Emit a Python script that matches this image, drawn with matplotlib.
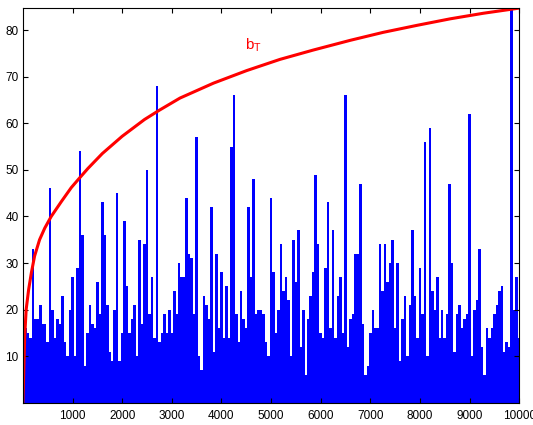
import numpy as np
import matplotlib
matplotlib.use('Agg')
import matplotlib.pyplot as plt

plt.rcParams['font.family'] = ['Liberation Sans', 'DejaVu Sans']
plt.rcParams['mathtext.default'] = 'regular'

# blue series: local max read every 50 iterations (0..10000)
noise = [14, 16, 15, 14, 33, 18, 18, 21, 17, 17,
         13, 46, 20, 14, 18, 17, 23, 13, 10, 20,
         27, 10, 29, 54, 36, 8, 15, 21, 17, 16,
         26, 19, 43, 36, 21, 11, 9, 20, 45, 9,
         15, 39, 25, 15, 18, 21, 10, 35, 17, 34,
         50, 19, 27, 14, 68, 13, 15, 19, 15, 20,
         15, 24, 19, 30, 27, 27, 44, 32, 31, 19,
         57, 10, 7, 23, 21, 18, 42, 11, 32, 16,
         28, 14, 25, 14, 55, 66, 19, 13, 24, 18,
         16, 42, 27, 48, 19, 20, 20, 19, 13, 10,
         44, 28, 15, 20, 34, 24, 27, 22, 10, 35,
         26, 37, 12, 20, 6, 18, 23, 28, 49, 34,
         15, 14, 29, 43, 16, 37, 14, 23, 27, 15,
         66, 12, 18, 19, 32, 32, 47, 17, 6, 8,
         15, 20, 16, 16, 34, 24, 34, 26, 30, 35,
         16, 30, 9, 18, 23, 10, 21, 37, 23, 14,
         29, 19, 56, 10, 59, 24, 20, 27, 14, 20,
         14, 19, 47, 30, 11, 19, 21, 16, 18, 19,
         62, 10, 20, 22, 33, 12, 6, 16, 14, 16,
         19, 21, 24, 25, 11, 13, 12, 85, 20, 27,
         14]
T_max = 10000

# red curve b_T
bt_t = [0, 20, 35, 65, 115, 170, 235, 335, 440, 570, 775, 975, 1145, 1310,
        1600, 2000, 2450, 2750, 3165, 3840, 4510, 5180, 5850, 6600, 7260,
        7940, 8610, 9280, 10000]
bt_v = [0, 8, 14, 20, 24.3, 27.9, 31.5, 35, 37.5, 40, 43.2, 46.2, 48.3, 50.3,
        53.5, 57.2, 60.8, 62.8, 65.4, 68.6, 71.3, 73.7, 75.7, 77.8, 79.5,
        81.0, 82.4, 83.6, 84.7]

x = np.linspace(0, T_max, len(noise))

fig = plt.figure(figsize=(5.33, 4.25), dpi=100)
ax = fig.add_axes([0.043, 0.052, 0.931, 0.93])

ax.fill_between(x, 0, noise, step='mid', color='#0000ff', lw=0)
ax.plot(bt_t, bt_v, color='#ff0000', lw=2.2, solid_capstyle='butt')
ax.text(4480, 75.8, '$b_T$', color='#ff0000', fontsize=11)

ax.set_xlim(0, T_max)
ax.set_ylim(0, 84.8)
ax.set_xticks(range(1000, 10001, 1000))
ax.set_yticks(range(10, 81, 10))
ax.tick_params(direction='in', top=True, right=True, length=3.5, width=0.8,
               labelsize=8.5, pad=3)
ax.tick_params(axis='x', pad=5)
for s in ax.spines.values():
    s.set_linewidth(0.8)

plt.savefig('out.png', dpi=100)
